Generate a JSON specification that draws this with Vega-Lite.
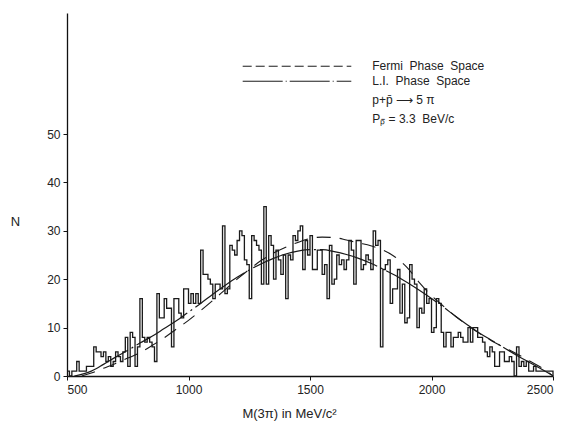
{
  "$schema": "https://vega.github.io/schema/vega-lite/v6.json",
  "width": 486,
  "height": 363,
  "autosize": {"type": "none"},
  "padding": {"left": 67, "top": 13, "right": 24, "bottom": 52},
  "background": "white",
  "config": {
    "view": {"stroke": null},
    "font": "Liberation Sans",
    "axis": {"grid": false, "domainColor": "#111", "tickColor": "#111", "labelColor": "#222", "titleColor": "#222", "labelFont": "Liberation Sans", "titleFont": "Liberation Sans", "labelFontSize": 12, "titleFontSize": 13, "titleFontWeight": "normal", "tickSize": 4, "domainWidth": 1.3, "tickWidth": 1}
  },
  "datasets": {
    "hist": [
      {"m":500,"n":1},{"m":510,"n":0},{"m":520,"n":1},{"m":530,"n":1},{"m":540,"n":3},{"m":550,"n":1},{"m":560,"n":1},{"m":570,"n":1},{"m":580,"n":2},{"m":590,"n":2},
      {"m":600,"n":2},{"m":610,"n":6},{"m":620,"n":5},{"m":630,"n":5},{"m":640,"n":4},{"m":650,"n":5},{"m":660,"n":3},{"m":670,"n":4},{"m":680,"n":2},{"m":690,"n":3},
      {"m":700,"n":5},{"m":710,"n":4},{"m":720,"n":3},{"m":730,"n":5},{"m":740,"n":8},{"m":750,"n":2},{"m":760,"n":9},{"m":770,"n":8},{"m":780,"n":2},{"m":790,"n":6},
      {"m":800,"n":16},{"m":810,"n":8},{"m":820,"n":7},{"m":830,"n":8},{"m":840,"n":7},{"m":850,"n":6},{"m":860,"n":3},{"m":870,"n":17},{"m":880,"n":12},{"m":890,"n":12},
      {"m":900,"n":16},{"m":910,"n":14},{"m":920,"n":14},{"m":930,"n":6},{"m":940,"n":16},{"m":950,"n":16},{"m":960,"n":13},{"m":970,"n":12},{"m":980,"n":18},{"m":990,"n":18},
      {"m":1000,"n":15},{"m":1010,"n":17},{"m":1020,"n":15},{"m":1030,"n":17},{"m":1040,"n":15},{"m":1050,"n":26},{"m":1060,"n":21},{"m":1070,"n":21},{"m":1080,"n":20},{"m":1090,"n":19},
      {"m":1100,"n":16},{"m":1110,"n":19},{"m":1120,"n":19},{"m":1130,"n":18},{"m":1140,"n":31},{"m":1150,"n":17},{"m":1160,"n":18},{"m":1170,"n":27},{"m":1180,"n":26},{"m":1190,"n":25},
      {"m":1200,"n":28},{"m":1210,"n":30},{"m":1220,"n":29},{"m":1230,"n":24},{"m":1240,"n":23},{"m":1250,"n":16},{"m":1260,"n":29},{"m":1270,"n":28},{"m":1280,"n":27},{"m":1290,"n":26},
      {"m":1300,"n":19},{"m":1310,"n":35},{"m":1320,"n":19},{"m":1330,"n":29},{"m":1340,"n":27},{"m":1350,"n":20},{"m":1360,"n":26},{"m":1370,"n":24},{"m":1380,"n":21},{"m":1390,"n":25},
      {"m":1400,"n":16},{"m":1410,"n":25},{"m":1420,"n":24},{"m":1430,"n":29},{"m":1440,"n":28},{"m":1450,"n":30},{"m":1460,"n":31},{"m":1470,"n":22},{"m":1480,"n":28},{"m":1490,"n":25},
      {"m":1500,"n":29},{"m":1510,"n":22},{"m":1520,"n":22},{"m":1530,"n":26},{"m":1540,"n":26},{"m":1550,"n":21},{"m":1560,"n":23},{"m":1570,"n":16},{"m":1580,"n":27},{"m":1590,"n":19},
      {"m":1600,"n":20},{"m":1610,"n":25},{"m":1620,"n":23},{"m":1630,"n":24},{"m":1640,"n":22},{"m":1650,"n":24},{"m":1660,"n":28},{"m":1670,"n":26},{"m":1680,"n":19},{"m":1690,"n":28},
      {"m":1700,"n":28},{"m":1710,"n":22},{"m":1720,"n":23},{"m":1730,"n":25},{"m":1740,"n":24},{"m":1750,"n":22},{"m":1760,"n":30},{"m":1770,"n":27},{"m":1780,"n":28},{"m":1790,"n":6},
      {"m":1800,"n":22},{"m":1810,"n":23},{"m":1820,"n":24},{"m":1830,"n":15},{"m":1840,"n":18},{"m":1850,"n":18},{"m":1860,"n":22},{"m":1870,"n":13},{"m":1880,"n":19},{"m":1890,"n":11},
      {"m":1900,"n":12},{"m":1910,"n":23},{"m":1920,"n":20},{"m":1930,"n":19},{"m":1940,"n":10},{"m":1950,"n":14},{"m":1960,"n":13},{"m":1970,"n":18},{"m":1980,"n":15},{"m":1990,"n":16},
      {"m":2000,"n":9},{"m":2010,"n":10},{"m":2020,"n":16},{"m":2030,"n":15},{"m":2040,"n":9},{"m":2050,"n":6},{"m":2060,"n":9},{"m":2070,"n":9},{"m":2080,"n":6},{"m":2090,"n":8},
      {"m":2100,"n":8},{"m":2110,"n":9},{"m":2120,"n":8},{"m":2130,"n":7},{"m":2140,"n":7},{"m":2150,"n":10},{"m":2160,"n":7},{"m":2170,"n":10},{"m":2180,"n":10},{"m":2190,"n":8},
      {"m":2200,"n":8},{"m":2210,"n":7},{"m":2220,"n":5},{"m":2230,"n":4},{"m":2240,"n":6},{"m":2250,"n":5},{"m":2260,"n":2},{"m":2270,"n":2},{"m":2280,"n":5},{"m":2290,"n":5},
      {"m":2300,"n":3},{"m":2310,"n":3},{"m":2320,"n":4},{"m":2330,"n":3},{"m":2340,"n":0},{"m":2350,"n":6},{"m":2360,"n":2},{"m":2370,"n":3},{"m":2380,"n":2},{"m":2390,"n":3},
      {"m":2400,"n":1},{"m":2410,"n":1},{"m":2420,"n":2},{"m":2430,"n":1},{"m":2440,"n":1},{"m":2450,"n":1},{"m":2460,"n":1},{"m":2470,"n":1},{"m":2480,"n":1},{"m":2490,"n":1},
      {"m":2500,"n":0}
    ],
    "li": [
      {"m":530,"n":0},{"m":600,"n":1},{"m":650,"n":2.4},{"m":700,"n":3.9},{"m":750,"n":5.3},{"m":800,"n":6.8},{"m":850,"n":8.2},{"m":900,"n":9.8},{"m":950,"n":11.4},{"m":1000,"n":13.2},
      {"m":1050,"n":15.0},{"m":1100,"n":16.9},{"m":1150,"n":18.7},{"m":1200,"n":20.4},{"m":1250,"n":21.9},{"m":1300,"n":23.2},{"m":1350,"n":24.3},{"m":1400,"n":25.2},{"m":1450,"n":25.8},{"m":1500,"n":26.1},
      {"m":1550,"n":26.1},{"m":1600,"n":25.7},{"m":1650,"n":25.1},{"m":1700,"n":24.3},{"m":1750,"n":23.3},{"m":1800,"n":22.1},{"m":1850,"n":20.8},{"m":1900,"n":19.3},{"m":1950,"n":17.7},{"m":2000,"n":16.0},
      {"m":2050,"n":14.2},{"m":2100,"n":12.3},{"m":2150,"n":10.5},{"m":2200,"n":8.8},{"m":2250,"n":7.3},{"m":2300,"n":5.8},{"m":2350,"n":4.3},{"m":2400,"n":2.9},{"m":2450,"n":1.5},{"m":2495,"n":0.2}
    ],
    "fermi": [
      {"m":560,"n":0},{"m":600,"n":0.6},{"m":650,"n":1.6},{"m":700,"n":2.6},{"m":750,"n":3.7},{"m":800,"n":4.8},{"m":850,"n":6.3},{"m":900,"n":7.9},{"m":950,"n":9.7},{"m":1000,"n":11.5},
      {"m":1050,"n":13.5},{"m":1100,"n":15.6},{"m":1150,"n":17.8},{"m":1200,"n":20.0},{"m":1250,"n":22.0},{"m":1300,"n":23.9},{"m":1350,"n":25.4},{"m":1400,"n":26.6},{"m":1450,"n":27.6},{"m":1500,"n":28.4},
      {"m":1550,"n":28.7},{"m":1600,"n":28.6},{"m":1650,"n":28.1},{"m":1700,"n":27.5},{"m":1750,"n":26.9},{"m":1800,"n":26.0},{"m":1850,"n":24.6},{"m":1900,"n":22.4},{"m":1950,"n":19.3},{"m":2000,"n":16.6},
      {"m":2050,"n":14.4},{"m":2100,"n":12.3},{"m":2150,"n":10.4},{"m":2200,"n":8.7},{"m":2250,"n":7.2},{"m":2300,"n":5.9},{"m":2350,"n":4.6},{"m":2400,"n":3.2},{"m":2450,"n":1.8},{"m":2500,"n":0}
    ]
  },
  "layer": [
    {
      "data": {"name": "hist"},
      "mark": {"type": "line", "interpolate": "step-after", "color": "#1a1a1a", "strokeWidth": 1.3},
      "encoding": {
        "x": {"field": "m", "type": "quantitative", "scale": {"domain": [500, 2500], "nice": false, "zero": false},
          "axis": {"values": [500, 1000, 1500, 2000, 2500], "format": "d", "title": "M(3π) in MeV/c²", "titleX": 222, "titleY": 37, "titleAlign": "center", "titleBaseline": "middle", "labelPadding": 4}},
        "y": {"field": "n", "type": "quantitative", "scale": {"domain": [0, 75], "nice": false},
          "axis": {"values": [0, 5, 10, 15, 20, 25, 30, 35, 40, 45, 50], "labelExpr": "datum.value % 10 == 0 ? datum.label : ''", "title": "N", "titleAngle": 0, "titleX": -52, "titleY": 208, "titleAlign": "center", "titleBaseline": "middle", "labelPadding": 3}}
      }
    },
    {
      "data": {"name": "li"},
      "mark": {"type": "line", "interpolate": "monotone", "color": "#1a1a1a", "strokeWidth": 1.2, "strokeDash": [60, 4, 2, 4]},
      "encoding": {"x": {"field": "m", "type": "quantitative"}, "y": {"field": "n", "type": "quantitative"}}
    },
    {
      "data": {"name": "fermi"},
      "mark": {"type": "line", "interpolate": "monotone", "color": "#1a1a1a", "strokeWidth": 1.1, "strokeDash": [14, 9]},
      "encoding": {"x": {"field": "m", "type": "quantitative"}, "y": {"field": "n", "type": "quantitative"}}
    },
    {
      "data": {"values": [{"m": 1223, "m2": 1670, "n": 64}]},
      "mark": {"type": "rule", "color": "#1a1a1a", "strokeWidth": 1, "strokeDash": [9, 4]},
      "encoding": {"x": {"field": "m", "type": "quantitative"}, "x2": {"field": "m2"}, "y": {"field": "n", "type": "quantitative"}}
    },
    {
      "data": {"values": [{"m": 1223, "m2": 1670, "n": 60.9}]},
      "mark": {"type": "rule", "color": "#1a1a1a", "strokeWidth": 1, "strokeDash": [40, 3, 1, 3]},
      "encoding": {"x": {"field": "m", "type": "quantitative"}, "x2": {"field": "m2"}, "y": {"field": "n", "type": "quantitative"}}
    },
    {
      "data": {"values": [
        {"m": 1756, "n": 64.0, "t": "Fermi\u00a0\u00a0Phase\u00a0\u00a0Space"},
        {"m": 1756, "n": 60.9, "t": "L.I.\u00a0\u00a0Phase\u00a0\u00a0Space"},
        {"m": 1756, "n": 57.0, "t": "p+p̄ ⟶ 5 π"},
        {"m": 1756, "n": 53.2, "t": "Pₚ̄ = 3.3\u00a0\u00a0BeV/c"}
      ]},
      "mark": {"type": "text", "align": "left", "baseline": "middle", "fontSize": 12, "font": "Liberation Sans", "color": "#222"},
      "encoding": {"x": {"field": "m", "type": "quantitative"}, "y": {"field": "n", "type": "quantitative"}, "text": {"field": "t"}}
    }
  ]
}
